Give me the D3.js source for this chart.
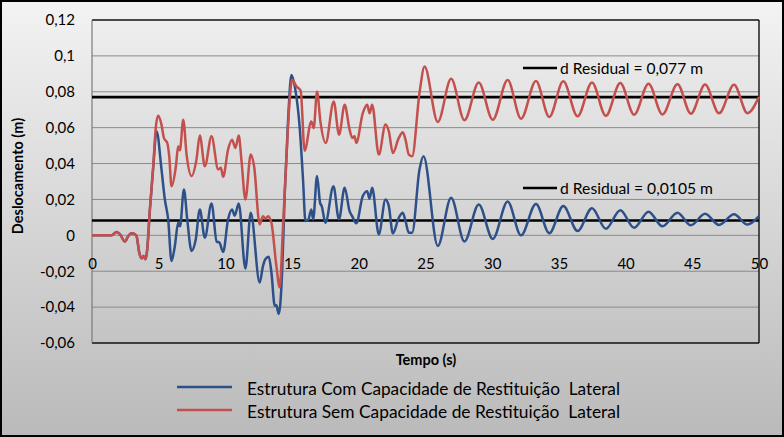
<!DOCTYPE html>
<html><head><meta charset="utf-8">
<script src="https://cdn.jsdelivr.net/npm/d3@7"></script>
<style>body{margin:0;background:#fff}svg{display:block}text{white-space:pre}</style>
</head><body>
<svg id="chart" width="784" height="437"></svg>
<script>
const xTicks = [0,5,10,15,20,25,30,35,40,45,50];
const xTickLabels = ["0","5","10","15","20","25","30","35","40","45","50"];
const yTicks = [-0.06,-0.04,-0.02,0,0.02,0.04,0.06,0.08,0.1,0.12];
const yTickLabels = ["-0,06","-0,04","-0,02","0","0,02","0,04","0,06","0,08","0,1","0,12"];
const seriesNames = ["Estrutura Com Capacidade de Restituição  Lateral","Estrutura Sem Capacidade de Restituição  Lateral"];
const residualValues = [0.077, 0.0083];
const residualLabels = ["d Residual = 0,077 m","d Residual = 0,0105 m"];

const comTime = [0,1.47,1.85,2.1,2.47,2.72,2.97,3.22,3.34,3.54,
3.72,3.84,4.02,4.14,4.34,4.59,4.84,5.21,5.46,5.71,
5.96,6.21,6.46,6.6,6.89,7.14,7.46,7.78,8.08,8.46,
8.96,9.35,9.55,9.83,10.2,10.5,10.7,11.0,11.5,11.9,
12.57,12.82,12.99,13.25,13.45,13.7,13.82,14.0,14.25,14.45,
14.7,14.95,15.2,15.57,15.82,16.0,16.22,16.44,16.58,16.87,
17.1,17.22,17.5,18.1,18.51,18.94,19.31,19.5,19.81,20.3,
20.63,20.8,21.0,21.5,22.0,22.25,22.55,23.0,23.3,23.5,
23.75,24.0,24.55,24.85,25.92,26.92,27.92,28.99,30.04,31.16,
32.16,33.28,34.28,35.33,36.4,37.48,38.52,39.6,40.64,41.72,
42.76,43.89,44.89,45.96,47.0,48.13,49.13,50];
const comDisp = [0,0,0.0019,0.0006,-0.0035,-0.0004,0.0011,0.0006,-0.0004,-0.0096,
-0.0128,-0.0115,-0.0133,-0.0078,0.0144,0.038,0.058,0.0367,0.020,0.0089,
-0.0143,-0.006,0.007,0.005,0.0256,0.0089,-0.0087,-0.0022,0.0144,-0.0013,
0.0178,-0.0035,-0.004,-0.0093,0.0089,0.0144,0.011,0.0178,-0.0185,0.0126,
-0.0263,-0.017,-0.0133,-0.0119,-0.0207,-0.0393,-0.039,-0.0439,-0.0207,0.0237,
0.0644,0.0894,0.083,0.06,0.031,0.008,0.0088,0.0144,0.0088,0.033,
0.0181,0.0163,0.007,0.0274,0.0089,0.0265,0.0135,0.0107,0.0067,0.0219,
0.0246,0.0204,0.0265,0.0006,0.02,0.0163,0.0011,0.0098,0.0126,0.008,
0.0015,0.0015,0.0367,0.0441,-0.0059,0.0209,-0.0034,0.0172,-0.002,0.0188,
0,0.0175,0.0012,0.0163,0.0024,0.0151,0.0036,0.014,0.0042,0.0132,
0.005,0.0126,0.0056,0.012,0.0058,0.0117,0.006,0.0107];

const semTime = [0,1.47,1.85,2.1,2.47,2.72,2.97,3.22,3.34,3.54,
3.72,3.84,4.02,4.14,4.34,4.59,4.79,4.96,5.21,5.39,
5.64,5.79,5.96,6.29,6.46,6.59,6.84,7.09,7.46,7.83,
8.08,8.46,8.96,9.46,9.66,9.83,10.2,10.5,10.75,11.0,
11.2,11.5,11.9,12.15,12.57,12.82,12.99,13.2,13.45,13.82,
14.07,14.32,14.57,14.82,15.0,15.32,15.64,15.94,16.44,16.62,
16.87,17.12,17.52,18.12,18.52,18.94,19.31,19.51,19.68,19.81,
20.3,20.63,20.81,21.0,21.5,22.0,22.25,22.55,23.0,23.3,
23.5,23.75,24.0,24.55,24.93,25.92,26.92,27.92,28.99,30.04,
31.16,32.16,33.28,34.28,35.33,36.4,37.48,38.52,39.6,40.64,
41.72,42.76,43.89,44.89,45.96,47.0,48.13,49.13,50];
const semDisp = [0,0,0.0019,0.0006,-0.0035,-0.0004,0.0011,0.0006,-0.0004,-0.0096,
-0.0128,-0.0115,-0.0133,-0.0078,0.0144,0.0385,0.0607,0.0667,0.0617,0.0543,
0.0515,0.044,0.0274,0.0385,0.0496,0.0474,0.0644,0.045,0.033,0.0422,
0.0556,0.0385,0.0552,0.0367,0.0376,0.0326,0.0478,0.0533,0.0487,0.0556,
0.0422,0.02,0.045,0.0385,0.0061,0.0107,0.0093,0.0107,0.007,-0.017,
-0.029,0.0052,0.0422,0.0756,0.0867,0.083,0.0807,0.0472,0.0635,0.0598,
0.0802,0.0635,0.0515,0.0746,0.0561,0.0728,0.0589,0.0543,0.0552,0.0515,
0.0681,0.0728,0.0681,0.0728,0.045,0.0617,0.058,0.0459,0.0543,0.0574,
0.0533,0.045,0.0441,0.0793,0.0941,0.0632,0.0872,0.0642,0.0852,0.0644,
0.0866,0.065,0.086,0.066,0.0858,0.0663,0.0852,0.0666,0.0849,0.0672,
0.0845,0.0674,0.0842,0.0678,0.084,0.068,0.0839,0.0681,0.0772];

const W = 784, H = 437;
const P = {l:92, r:759, t:20, b:343};
const FONT = "Lato, 'Open Sans', sans-serif";
const svg = d3.select("#chart");
const x = d3.scaleLinear().domain([0,50]).range([P.l,P.r]);
const y = d3.scaleLinear().domain([-0.06,0.12]).range([P.b,P.t]);

const defs = svg.append("defs");
const g1 = defs.append("linearGradient").attr("id","bgOuter").attr("x1",0).attr("y1",0).attr("x2",0).attr("y2",1);
g1.append("stop").attr("offset","0%").attr("stop-color","#f3f3f3");
g1.append("stop").attr("offset","100%").attr("stop-color","#bababa");
const g2 = defs.append("linearGradient").attr("id","bgPlot").attr("x1",0).attr("y1",0).attr("x2",0).attr("y2",1);
g2.append("stop").attr("offset","0%").attr("stop-color","#eeeeee");
g2.append("stop").attr("offset","100%").attr("stop-color","#c4c4c4");

svg.append("rect").attr("x",1).attr("y",1).attr("width",W-2).attr("height",H-2)
  .attr("fill","url(#bgOuter)").attr("stroke","#000").attr("stroke-width",2);
svg.append("rect").attr("x",P.l).attr("y",P.t).attr("width",P.r-P.l).attr("height",P.b-P.t)
  .attr("fill","url(#bgPlot)");

// gridlines
svg.append("g").selectAll("line").data(yTicks.filter(v=>v>-0.06 && v<0.12)).join("line")
  .attr("x1",P.l).attr("x2",P.r).attr("y1",d=>y(d)).attr("y2",d=>y(d))
  .attr("stroke","#8a8a8a").attr("stroke-width",1);

// plot border
svg.append("line").attr("x1",P.l).attr("x2",P.r).attr("y1",P.t).attr("y2",P.t).attr("stroke","#111").attr("stroke-width",1.6);
svg.append("line").attr("x1",P.l).attr("x2",P.r).attr("y1",P.b).attr("y2",P.b).attr("stroke","#111").attr("stroke-width",1.6);
svg.append("line").attr("x1",P.r).attr("x2",P.r).attr("y1",P.t).attr("y2",P.b).attr("stroke","#111").attr("stroke-width",1.4);
svg.append("line").attr("x1",P.l).attr("x2",P.l).attr("y1",P.t).attr("y2",P.b).attr("stroke","#7a7a7a").attr("stroke-width",1.2);

// axes
const yAxis = d3.axisLeft(y).tickValues(yTicks).tickSize(0).tickPadding(17)
  .tickFormat((d,i)=>yTickLabels[i]);
const ya = svg.append("g").attr("transform",`translate(${P.l},0)`).call(yAxis);
ya.select(".domain").remove();
ya.selectAll("text").attr("font-family",FONT).attr("font-size",15).attr("fill","#000");

const xAxis = d3.axisBottom(x).tickValues(xTicks).tickSize(0).tickPadding(23)
  .tickFormat((d,i)=>xTickLabels[i]);
const xa = svg.append("g").attr("transform",`translate(0,${y(0)})`).call(xAxis);
xa.select(".domain").remove();
xa.selectAll("text").attr("font-family",FONT).attr("font-size",15).attr("fill","#000");

// residual lines
svg.append("g").selectAll("line").data(residualValues).join("line")
  .attr("x1",x(0)).attr("x2",x(50)).attr("y1",d=>y(d)).attr("y2",d=>y(d))
  .attr("stroke","#000").attr("stroke-width",2.6);

// series
const line = d3.line().x(d=>x(d[0])).y(d=>y(d[1])).curve(d3.curveMonotoneX);
const colors = ["#2d5089","#c4504d"];
const series = [d3.zip(comTime,comDisp), d3.zip(semTime,semDisp)];
svg.append("g").selectAll("path").data(series).join("path")
  .attr("d",line).attr("fill","none").attr("stroke",(d,i)=>colors[i])
  .attr("stroke-width",2.5).attr("stroke-linejoin","round");

// residual labels
const resPos = [{ly:68, ty:74, len:143},{ly:188, ty:194, len:153}];
residualLabels.forEach((t,i)=>{
  svg.append("line").attr("x1",523).attr("x2",557).attr("y1",resPos[i].ly).attr("y2",resPos[i].ly)
    .attr("stroke","#000").attr("stroke-width",2.4);
  svg.append("text").attr("x",560).attr("y",resPos[i].ty).text(t)
    .attr("font-family",FONT).attr("font-size",16).attr("fill","#000")
    .attr("textLength",resPos[i].len).attr("lengthAdjust","spacingAndGlyphs");
});

// axis titles
svg.append("text").attr("transform","translate(23,176) rotate(-90)")
  .attr("text-anchor","middle").attr("font-family",FONT).attr("font-weight","bold")
  .attr("font-size",14.5).attr("fill","#000").text("Deslocamento (m)");
svg.append("text").attr("x",426).attr("y",365).attr("text-anchor","middle")
  .attr("font-family",FONT).attr("font-weight","bold").attr("font-size",14.5)
  .attr("fill","#000").text("Tempo (s)");

// legend
const legY = [{ly:387, ty:395},{ly:410, ty:418}];
seriesNames.forEach((n,i)=>{
  svg.append("line").attr("x1",177).attr("x2",232).attr("y1",legY[i].ly).attr("y2",legY[i].ly)
    .attr("stroke",colors[i]).attr("stroke-width",2.5);
  svg.append("text").attr("x",247).attr("y",legY[i].ty).text(n)
    .attr("font-family",FONT).attr("font-size",16.5).attr("fill","#000")
    .attr("textLength",373).attr("lengthAdjust","spacingAndGlyphs");
});
</script>
</body></html>
